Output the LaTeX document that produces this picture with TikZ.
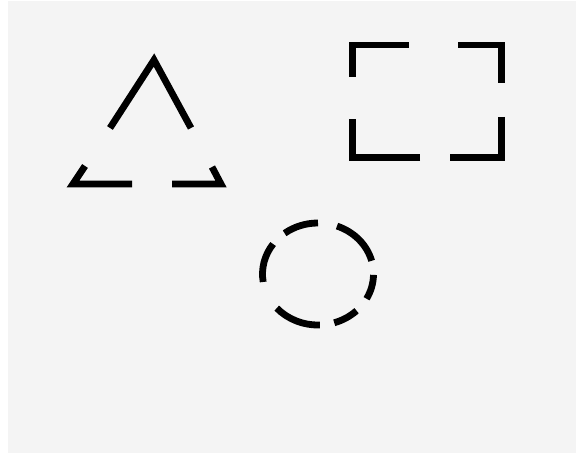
\documentclass[tikz,border=0pt]{standalone}
\usepackage{tikz}
\definecolor{papergray}{RGB}{244, 244, 244}
\definecolor{inkblack}{RGB}{0, 0, 0}
\tikzset{
  brokenline/.style={draw=inkblack, line width=3.4pt, line join=miter},
  paper/.style={fill=papergray, draw=none}
}

\begin{document}
\begin{tikzpicture}[x=0.5pt, y=-0.5pt]
    % --- PAPER ---
    \useasboundingbox (0, 0) rectangle (576, 453);
    \fill[white] (0, 0) rectangle (576, 453);
    \fill[paper] (8, 1) rectangle (577, 454);

    % --- TRIANGLE (gaps in the middle of each side) ---
    \draw[brokenline] (110, 128) -- (154, 60) -- (191, 128);
    \draw[brokenline] (85, 166) -- (73, 184) -- (132, 184);
    \draw[brokenline] (172, 184) -- (221, 184) -- (212, 167);

    % --- SQUARE (only the four corners) ---
    \draw[brokenline] (352.5, 77) -- (352.5, 45) -- (409, 45);
    \draw[brokenline] (458, 45) -- (501.5, 45) -- (501.5, 83);
    \draw[brokenline] (501.5, 117) -- (501.5, 157.5) -- (450, 157.5);
    \draw[brokenline] (420, 157.5) -- (352.5, 157.5) -- (352.5, 119);

    % --- DASHED CIRCLE ---
    \draw[brokenline] ([shift={(-90:55.5 and 51)}]318, 274) arc[start angle=-90, end angle=-127, x radius=55.5, y radius=51];
    \draw[brokenline] ([shift={(-15:55.5 and 51)}]318, 274) arc[start angle=-15, end angle=-70, x radius=55.5, y radius=51];
    \draw[brokenline] ([shift={(29:55.5 and 51)}]318, 274) arc[start angle=29, end angle=1, x radius=55.5, y radius=51];
    \draw[brokenline] ([shift={(73:55.5 and 51)}]318, 274) arc[start angle=73, end angle=46, x radius=55.5, y radius=51];
    \draw[brokenline] ([shift={(138:55.5 and 51)}]318, 274) arc[start angle=138, end angle=88, x radius=55.5, y radius=51];
    \draw[brokenline] ([shift={(-144:55.5 and 51)}]318, 274) arc[start angle=-144, end angle=-189, x radius=55.5, y radius=51];
\end{tikzpicture}
\end{document}
